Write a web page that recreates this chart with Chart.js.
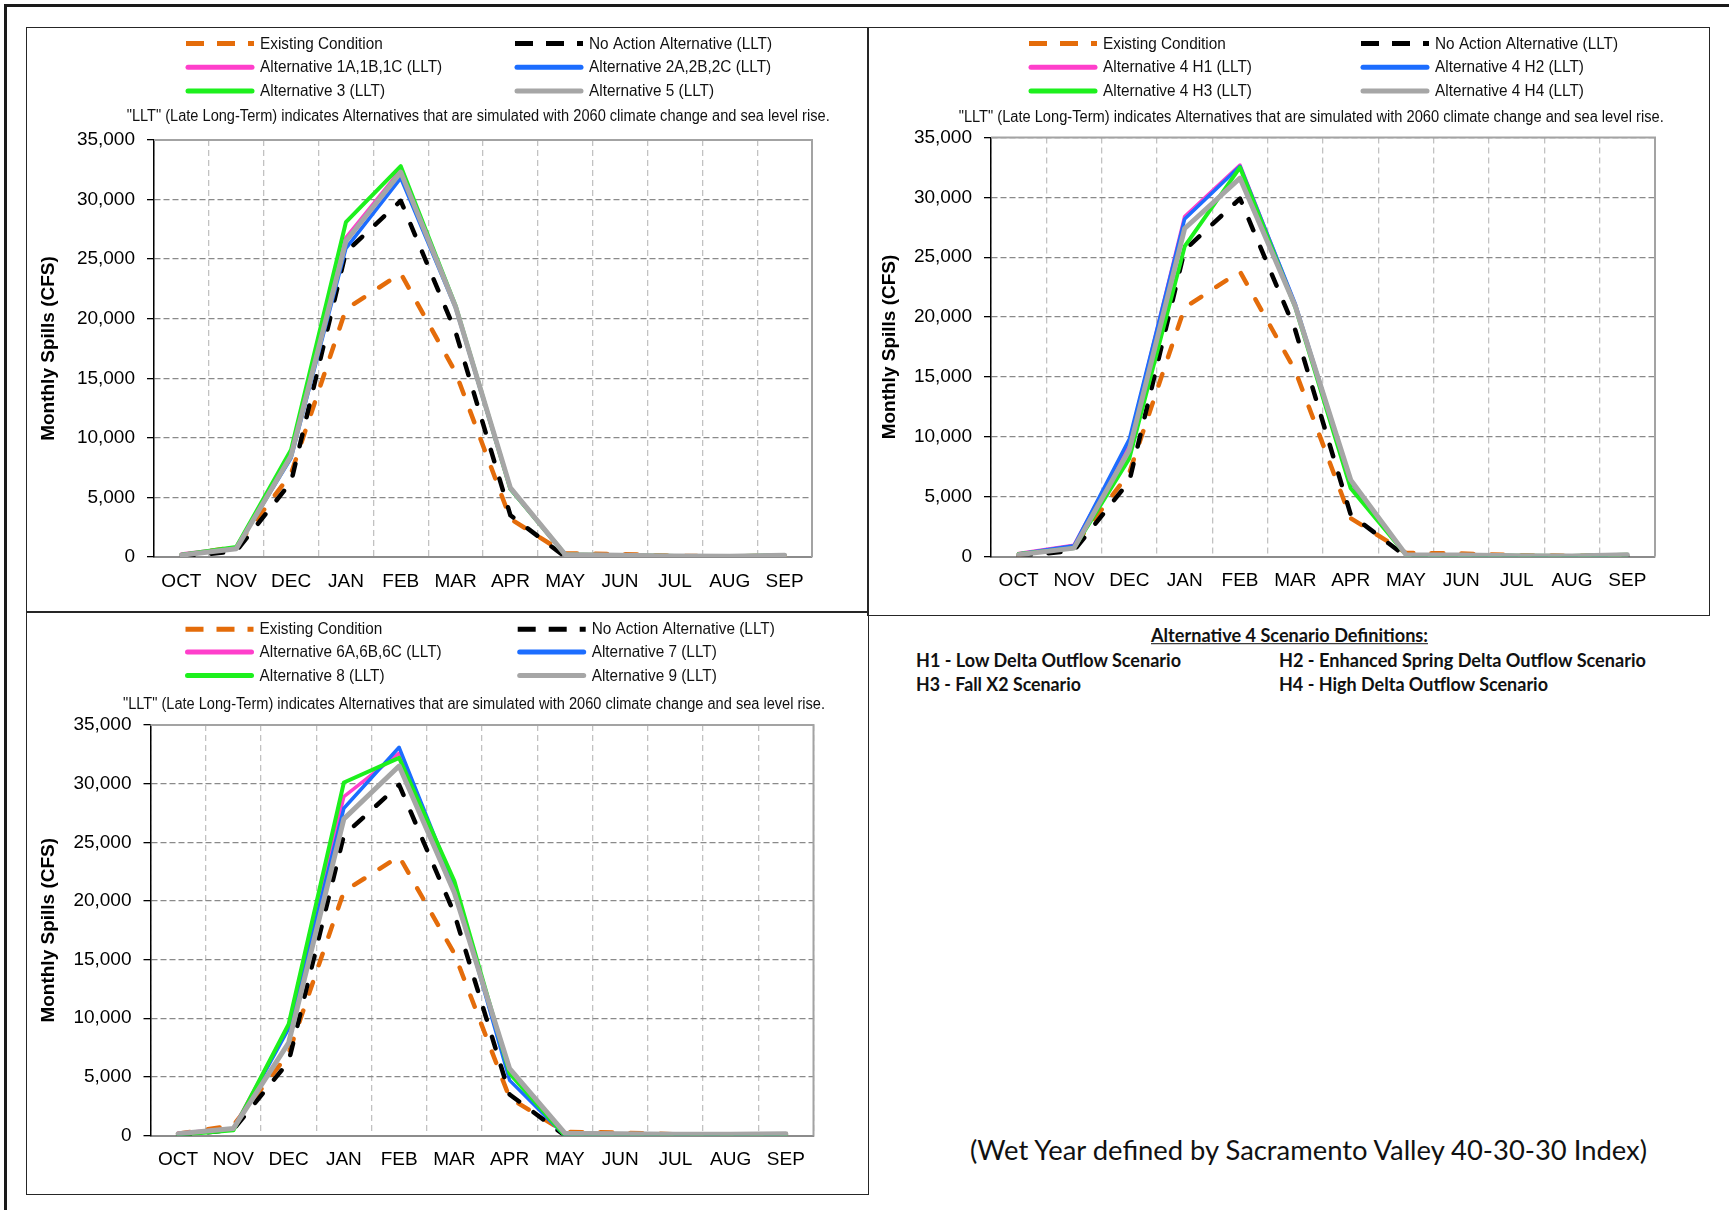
<!DOCTYPE html>
<html>
<head>
<meta charset="utf-8">
<title>Monthly Spills - Wet Year</title>
<script src="https://cdn.jsdelivr.net/npm/chart.js@4.4.1/dist/chart.umd.min.js"></script>
<style>
  html, body { margin: 0; padding: 0; background: #fff; }
  body { position: relative; width: 1729px; height: 1210px; overflow: hidden; }
  .rule { position: absolute; background: #1a1a1a; }
  .panel { position: absolute; box-sizing: border-box; border: 1.5px solid #262626; }
  canvas.plot { position: absolute; }
  .txt { position: absolute; white-space: nowrap; color: #111; line-height: 1.2; transform-origin: 0 50%; font-family: Lato, "Open Sans", sans-serif; }
</style>
</head>
<body>
<div class="rule" style="left:4px;top:4px;width:1725px;height:2.5px"></div>
<div class="rule" style="left:4px;top:4px;width:2.5px;height:1206px"></div>

<div class="panel" style="left:26px;top:27px;width:842.5px;height:585.5px"></div>
<div class="panel" style="left:867px;top:27px;width:842.5px;height:588.5px"></div>
<div class="panel" style="left:26px;top:611px;width:842.5px;height:583.5px"></div>

<canvas class="plot" id="c1" width="839" height="582" style="left:28px;top:29px"></canvas>
<canvas class="plot" id="c2" width="839" height="585" style="left:869px;top:29px"></canvas>
<canvas class="plot" id="c3" width="839" height="580" style="left:28px;top:613px"></canvas>

<div class="txt fit" data-w="277" style="left:1151px;top:636px;font-size:18px;font-weight:700;text-decoration:underline">Alternative 4 Scenario Definitions:</div>
<div class="txt fit" data-w="265" style="left:916px;top:661px;font-size:18px;font-weight:700">H1 - Low Delta Outflow Scenario</div>
<div class="txt fit" data-w="367" style="left:1279px;top:661px;font-size:18px;font-weight:700">H2 - Enhanced Spring Delta Outflow Scenario</div>
<div class="txt fit" data-w="165" style="left:916px;top:685px;font-size:18px;font-weight:700">H3 - Fall X2 Scenario</div>
<div class="txt fit" data-w="269" style="left:1279px;top:685px;font-size:18px;font-weight:700">H4 - High Delta Outflow Scenario</div>
<div class="txt fit" data-w="677" style="left:970px;top:1151px;font-size:26px;font-weight:400">(Wet Year defined by Sacramento Valley 40-30-30 Index)</div>

<script>
// ---- categories and axis ticks ----
const months = ['OCT', 'NOV', 'DEC', 'JAN', 'FEB', 'MAR', 'APR', 'MAY', 'JUN', 'JUL', 'AUG', 'SEP'];
const yTickValues = [0, 5000, 10000, 15000, 20000, 25000, 30000, 35000];

// ---- monthly spills (CFS), shared baselines ----
const existingCondition = [150, 850, 7000, 20800, 23800, 15500, 3200, 300, 250, 100, 60, 100];
const noActionLLT       = [0, 500, 6300, 25600, 29900, 18900, 3500, 0, 0, 0, 0, 0];

// ---- alternatives 1, 2, 3, 5 ----
const alt1LLT = [250, 800, 8600, 26800, 32500, 21000, 5800, 200, 150, 80, 60, 150];
const alt2LLT = [200, 750, 8300, 25900, 31800, 20900, 5700, 200, 150, 80, 60, 150];
const alt3LLT = [200, 850, 9000, 28100, 32800, 21100, 5700, 200, 150, 80, 60, 150];
const alt5LLT = [150, 700, 8500, 26500, 32300, 21000, 5800, 200, 150, 80, 60, 150];

// ---- alternative 4 scenarios ----
const alt4H1LLT = [250, 950, 9500, 28400, 32700, 21000, 6200, 150, 120, 60, 50, 150];
const alt4H2LLT = [220, 900, 9800, 28200, 32600, 21100, 6300, 150, 120, 60, 50, 150];
const alt4H3LLT = [200, 700, 8200, 25900, 32500, 20800, 5700, 150, 120, 60, 50, 150];
const alt4H4LLT = [150, 700, 8900, 27400, 31600, 20900, 6400, 150, 120, 60, 50, 150];

// ---- alternatives 6, 7, 8, 9 ----
const alt6LLT = [200, 600, 9300, 28900, 32600, 21200, 5500, 100, 80, 40, 30, 100];
const alt7LLT = [100, 500, 9100, 27900, 33100, 21300, 4700, 0, 0, 0, 0, 0];
const alt8LLT = [50, 450, 9500, 30100, 32200, 21700, 5300, 0, 0, 0, 0, 0];
const alt9LLT = [150, 600, 7900, 27000, 31500, 20700, 5700, 200, 150, 100, 100, 150];

const noteText = '"LLT" (Late Long-Term) indicates Alternatives that are simulated with 2060 climate change and sea level rise.';

// ---- line styles ----
const ORANGE = '#E46C0A', BLACK = '#000000', PINK = '#FF3FCB', BLUE = '#1C6DFF', GREEN = '#1DF01D', GRAY = '#A6A6A6';

function dashedLine(label, data, color, order) {
  return { label, data, borderColor: color, backgroundColor: color, borderWidth: 4.5,
           borderDash: [12, 18], borderCapStyle: 'round', borderJoinStyle: 'round',
           pointRadius: 0, pointHoverRadius: 0, tension: 0, fill: false, order };
}
function solidLine(label, data, color, width, order) {
  return { label, data, borderColor: color, backgroundColor: color, borderWidth: width,
           borderDash: [], borderCapStyle: 'round', borderJoinStyle: 'round',
           pointRadius: 0, pointHoverRadius: 0, tension: 0, fill: false, order };
}
function panelDatasets(names, series) {
  return [
    dashedLine('Existing Condition', existingCondition, ORANGE, 6),
    dashedLine('No Action Alternative (LLT)', noActionLLT, BLACK, 5),
    solidLine(names[0], series[0], PINK, 3.5, 4),
    solidLine(names[1], series[1], BLUE, 3.5, 3),
    solidLine(names[2], series[2], GREEN, 4, 2),
    solidLine(names[3], series[3], GRAY, 5, 1)
  ];
}

// ---- legend grid + note, drawn above the plot area ----
const panelLegend = {
  id: 'panelLegend',
  afterDraw(chart, args, o) {
    const ctx = chart.ctx;
    chart.data.datasets.forEach((d, i) => {
      const col = i % 2, row = Math.floor(i / 2);
      const x0 = o.swatchX[col], y = o.rowY[row];
      const isDashed = d.borderDash && d.borderDash.length > 0;
      ctx.save();
      ctx.strokeStyle = d.borderColor;
      ctx.lineWidth = 5;
      ctx.setLineDash(isDashed ? [18, 13] : []);
      ctx.lineCap = isDashed ? 'butt' : 'round';
      ctx.beginPath();
      ctx.moveTo(x0 + (isDashed ? 0 : 2), y);
      ctx.lineTo(x0 + 68 - (isDashed ? 0 : 2), y);
      ctx.stroke();
      ctx.restore();

      ctx.save();
      ctx.font = '16.5px "Liberation Sans", Arial, sans-serif';
      ctx.fillStyle = '#111';
      ctx.textBaseline = 'middle';
      ctx.translate(x0 + 68 + 6, y + 0.5);
      ctx.scale(0.93, 1);
      ctx.fillText(d.label, 0, 0);
      ctx.restore();
    });
    ctx.save();
    ctx.font = '16px "Liberation Sans", Arial, sans-serif';
    ctx.fillStyle = '#111';
    ctx.textBaseline = 'middle';
    const w = ctx.measureText(noteText).width;
    ctx.translate(o.note.x, o.note.y);
    ctx.scale(o.note.w / w, 1);
    ctx.fillText(noteText, 0, 0);
    ctx.restore();
  }
};

// ---- light frame on the top and right of the plot area ----
const plotFrame = {
  id: 'plotFrame',
  beforeDatasetsDraw(chart) {
    const { ctx, chartArea: a } = chart;
    ctx.save();
    ctx.strokeStyle = '#a3a3a3';
    ctx.lineWidth = 2;
    ctx.beginPath();
    ctx.moveTo(a.left, a.top);
    ctx.lineTo(a.right, a.top);
    ctx.lineTo(a.right, a.bottom);
    ctx.stroke();
    ctx.restore();
  }
};

Chart.defaults.font.family = '"Liberation Sans", Arial, sans-serif';
Chart.defaults.color = '#000';

function makePanel(p) {
  const box = p.box, plot = p.plot;
  new Chart(document.getElementById(p.canvas), {
    type: 'line',
    data: { labels: months, datasets: p.datasets },
    options: {
      responsive: false,
      animation: false,
      events: [],
      layout: { padding: { left: 0, top: plot.t - box.y, right: box.x + box.w - plot.r, bottom: 0 } },
      plugins: {
        legend: { display: false },
        tooltip: { enabled: false },
        panelLegend: p.legend
      },
      scales: {
        x: {
          type: 'category',
          offset: true,
          grid: { offset: true, color: '#c2c2c2', lineWidth: 1.3, drawTicks: false },
          border: { display: true, color: '#8c8c8c', width: 2, dash: [6, 4] },
          ticks: { font: { size: 19 }, color: '#000', padding: 13, autoSkip: false, maxRotation: 0 },
          afterFit: s => { s.height = box.y + box.h - plot.b; }
        },
        y: {
          min: 0,
          max: 35000,
          afterBuildTicks: s => { s.ticks = yTickValues.map(v => ({ value: v })); },
          afterFit: s => { s.width = plot.l - box.x; },
          grid: { color: '#8a8a8a', lineWidth: 1.3, drawTicks: true, tickLength: 7,
                  tickColor: '#000', tickWidth: 1.3, tickBorderDash: [] },
          border: { display: true, color: '#000', width: 1.5, dash: [6, 3] },
          ticks: { font: { size: 19 }, color: '#000', padding: 12,
                   callback: v => Number(v).toLocaleString('en-US') },
          title: { display: true, text: 'Monthly Spills (CFS)', color: '#000',
                   font: { size: 19, weight: 'bold' }, padding: { top: 9.5, bottom: 0 } }
        }
      }
    },
    plugins: [panelLegend, plotFrame]
  });
}

makePanel({
  canvas: 'c1',
  box: { x: 28, y: 29, w: 839, h: 582 },
  plot: { l: 154, r: 812, t: 140, b: 557 },
  legend: { swatchX: [158, 487], rowY: [14.5, 38.2, 62], note: { x: 98.7, y: 88, w: 703 } },
  datasets: panelDatasets(
    ['Alternative 1A,1B,1C (LLT)', 'Alternative 2A,2B,2C (LLT)', 'Alternative 3 (LLT)', 'Alternative 5 (LLT)'],
    [alt1LLT, alt2LLT, alt3LLT, alt5LLT])
});

makePanel({
  canvas: 'c2',
  box: { x: 869, y: 29, w: 839, h: 585 },
  plot: { l: 991, r: 1655, t: 137.5, b: 556.5 },
  legend: { swatchX: [160, 492], rowY: [14.5, 38.2, 62], note: { x: 89.7, y: 88.4, w: 705 } },
  datasets: panelDatasets(
    ['Alternative 4 H1 (LLT)', 'Alternative 4 H2 (LLT)', 'Alternative 4 H3 (LLT)', 'Alternative 4 H4 (LLT)'],
    [alt4H1LLT, alt4H2LLT, alt4H3LLT, alt4H4LLT])
});

makePanel({
  canvas: 'c3',
  box: { x: 28, y: 613, w: 839, h: 580 },
  plot: { l: 150.5, r: 813.5, t: 725, b: 1135.5 },
  legend: { swatchX: [157.5, 489.7], rowY: [16.3, 39.1, 62.6], note: { x: 95, y: 91.2, w: 702 } },
  datasets: panelDatasets(
    ['Alternative 6A,6B,6C (LLT)', 'Alternative 7 (LLT)', 'Alternative 8 (LLT)', 'Alternative 9 (LLT)'],
    [alt6LLT, alt7LLT, alt8LLT, alt9LLT])
});

// squeeze the side-panel captions to their set widths
document.querySelectorAll('.fit').forEach(el => {
  const k = Number(el.dataset.w) / el.getBoundingClientRect().width;
  el.style.transform = 'translateY(-50%) scaleX(' + k.toFixed(4) + ')';
});
</script>
</body>
</html>
